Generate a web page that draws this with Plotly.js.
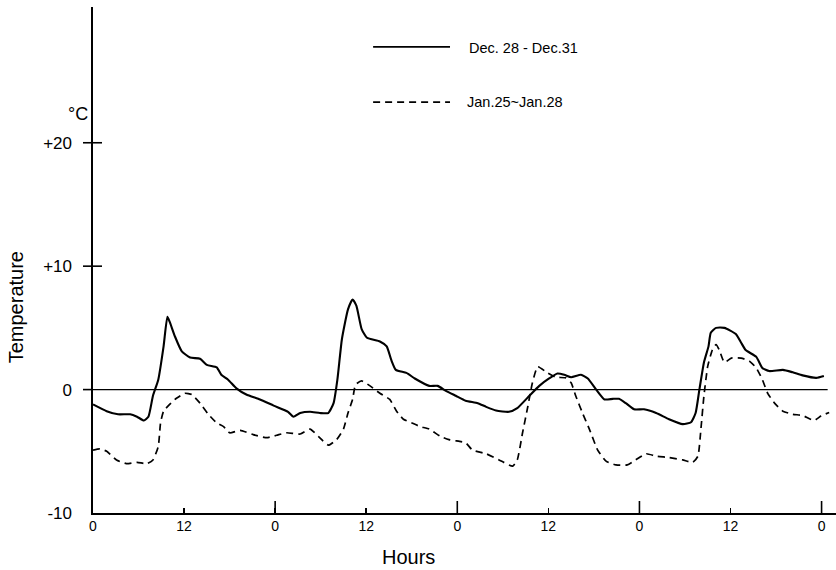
<!DOCTYPE html>
<html>
<head>
<meta charset="utf-8">
<script src="https://cdn.plot.ly/plotly-3.0.1.min.js"></script>
<style>html,body{margin:0;padding:0;background:#fff;}#chart{width:836px;height:570px;}</style>
</head>
<body>
<div id="chart"></div>
<script>
// Hours from start of the 4-day period
const decHours = [0,1.8,3.3,4.9,5.8,6.7,7.3,7.9,8.6,9.3,9.8,10.1,10.8,11.7,12.8,14.1,15.0,16.3,16.9,17.8,18.9,20.2,22.0,23.8,25.7,26.4,27.3,28.6,29.9,31.0,31.7,32.2,32.8,33.6,34.2,34.7,35.4,36.1,37.8,38.7,39.3,39.9,41.3,42.4,44.3,45.4,46.5,47.8,49.1,50.7,51.8,53.1,54.8,55.9,57.5,58.8,60.1,61.2,62.1,63.0,64.3,65.2,66.3,67.4,68.5,69.3,70.2,71.3,72.6,74.2,75.9,77.7,78.8,79.4,79.9,80.5,81.1,81.4,82.1,83.2,84.7,85.4,86.0,87.4,88.2,89.1,90.9,92.2,93.5,95.3,96.3];
const decTemp  = [-1.2,-1.75,-2.0,-2.0,-2.2,-2.5,-2.2,-0.5,0.8,3.5,5.9,5.5,4.3,3.1,2.6,2.5,2.0,1.8,1.2,0.8,0.1,-0.4,-0.8,-1.3,-1.8,-2.2,-1.9,-1.8,-1.9,-1.9,-1.1,0.8,4.1,6.5,7.3,6.8,4.9,4.2,3.9,3.5,2.4,1.6,1.35,0.9,0.3,0.3,-0.1,-0.5,-0.9,-1.1,-1.4,-1.7,-1.8,-1.5,-0.5,0.3,0.9,1.3,1.2,1.0,1.2,0.9,0.0,-0.8,-0.75,-0.75,-1.1,-1.6,-1.6,-1.9,-2.4,-2.8,-2.65,-1.9,0.0,2.2,3.5,4.6,5.0,5.0,4.5,3.8,3.2,2.65,1.75,1.5,1.6,1.4,1.15,0.95,1.1];

const janHours = [0,0.9,1.8,3.1,4.4,5.8,7.1,7.9,8.6,8.9,9.3,10.1,11.0,12.1,13.0,14.1,15.2,16.3,17.2,18.0,19.4,21.1,22.9,24.2,25.5,27.3,28.6,29.7,31.0,32.1,33.0,33.6,34.2,34.6,35.4,36.5,37.8,39.1,40.0,40.9,42.2,43.1,44.3,45.8,46.9,48.3,49.1,50.0,51.8,53.5,55.3,55.9,56.6,57.3,57.9,58.6,59.9,61.0,62.3,63.0,63.6,64.5,65.4,66.5,67.6,68.9,70.4,71.5,72.9,74.2,75.9,77.7,79.0,79.7,80.1,80.5,81.0,81.6,82.1,82.5,83.2,84.1,85.4,86.5,87.4,88.2,88.9,89.8,90.9,92.2,93.5,95.0,95.9,97.0];
const janTemp  = [-4.9,-4.8,-5.0,-5.7,-6.0,-5.9,-6.0,-5.7,-4.6,-2.7,-1.75,-1.2,-0.7,-0.3,-0.4,-1.1,-2.0,-2.7,-3.0,-3.5,-3.3,-3.65,-3.9,-3.7,-3.5,-3.6,-3.2,-3.8,-4.5,-4.05,-3.2,-1.9,-0.8,0.4,0.7,0.3,-0.3,-0.8,-1.75,-2.4,-2.75,-3.0,-3.2,-3.8,-4.05,-4.2,-4.3,-4.9,-5.2,-5.7,-6.2,-5.7,-3.5,-1.35,0.55,1.85,1.35,1.0,0.95,0.55,-0.5,-1.9,-3.2,-4.9,-5.8,-6.1,-6.1,-5.7,-5.2,-5.4,-5.5,-5.7,-5.9,-5.4,-3.2,-0.5,1.9,3.2,3.65,3.25,2.2,2.55,2.55,2.3,1.75,0.8,-0.3,-1.1,-1.75,-2.0,-2.1,-2.5,-2.15,-1.85];

const xTickVals = [0,12,24,36,48,60,72,84,96];
const xTickText = ["0","12","0","12","0","12","0","12","0"];
const dayTickVals = [24,48,72,96];
const yTickVals = [-10,0,10,20];
const yTickText = ["-10","0","+10","+20"];
const yOutTickVals = [0,10,20];
const yInTickVals = [10,20];
const seriesNames = ["Dec. 28 - Dec.31","Jan.25~Jan.28"];

const FONT = "Liberation Sans, Arial, sans-serif";
const XR = [0, 97.9];
const YR = [-10, 31];
const PLOT_W = 836 - 93, PLOT_H = 570 - 7 - 57;

const tickLine = {color:'#000', width:1.6};
const shapes = [];
// long "midnight" ticks on the x axis (inside)
dayTickVals.forEach(v => shapes.push({type:'line', xref:'x', yref:'paper', x0:v, x1:v, y0:0, y1:12/PLOT_H, line:tickLine}));
// y-axis tick stubs outside
yOutTickVals.forEach(v => shapes.push({type:'line', xref:'paper', yref:'y', x0:-10/PLOT_W, x1:0, y0:v, y1:v, line:tickLine}));
// y-axis tick stubs inside
yInTickVals.forEach(v => shapes.push({type:'line', xref:'paper', yref:'y', x0:0, x1:9/PLOT_W, y0:v, y1:v, line:tickLine}));
// zero reference line
shapes.push({type:'line', xref:'x', yref:'y', x0:0, x1:96.8, y0:0, y1:0, line:{color:'#000', width:1.2}, layer:'below'});
// legend samples
shapes.push({type:'line', xref:'paper', yref:'paper', x0:0.377, x1:0.4805, y0:0.921, y1:0.921, line:{color:'#000', width:1.7}});
shapes.push({type:'line', xref:'paper', yref:'paper', x0:0.377, x1:0.4805, y0:0.812, y1:0.812, line:{color:'#000', width:1.7, dash:'7px,5px'}});

const traces = [
  {x: decHours, y: decTemp, type:'scatter', mode:'lines', name: seriesNames[0],
   line:{color:'#000', width:2.1, shape:'spline', smoothing:0.5}, hoverinfo:'skip'},
  {x: janHours, y: janTemp, type:'scatter', mode:'lines', name: seriesNames[1],
   line:{color:'#000', width:1.7, dash:'7px,5px', shape:'spline', smoothing:0.5}, hoverinfo:'skip'}
];

const layout = {
  width:836, height:570,
  margin:{l:93, r:0, t:7, b:57},
  paper_bgcolor:'#fff', plot_bgcolor:'#fff',
  showlegend:false,
  font:{family:FONT, color:'#000'},
  xaxis:{range:XR, showgrid:false, zeroline:false, showline:true, linecolor:'#000', linewidth:1.6,
         tickmode:'array', tickvals:xTickVals, ticktext:xTickText, ticks:'inside', ticklen:5, tickwidth:1.5, tickcolor:'#000',
         tickfont:{size:14, family:FONT}, fixedrange:true},
  yaxis:{range:YR, showgrid:false, zeroline:false, showline:true, linecolor:'#000', linewidth:1.6,
         tickmode:'array', tickvals:yTickVals, ticktext:yTickText, ticks:'', ticklabelstandoff:16,
         tickfont:{size:17, family:FONT}, fixedrange:true},
  shapes: shapes,
  annotations:[
    {text:seriesNames[0], xref:'paper', yref:'paper', x:0.503, y:0.919, xanchor:'left', yanchor:'middle', showarrow:false, font:{size:14.5, family:FONT}},
    {text:seriesNames[1], xref:'paper', yref:'paper', x:0.501, y:0.812, xanchor:'left', yanchor:'middle', showarrow:false, font:{size:14.5, family:FONT}},
    {text:'°C', xref:'paper', yref:'paper', x:-0.0205, y:0.7885, xanchor:'center', yanchor:'middle', showarrow:false, font:{size:18, family:FONT}},
    {text:'Temperature', xref:'paper', yref:'paper', x:-0.104, y:0.406, xanchor:'center', yanchor:'middle', textangle:-90, showarrow:false, font:{size:20, family:FONT}},
    {text:'Hours', xref:'paper', yref:'paper', x:0.424, y:-0.087, xanchor:'center', yanchor:'middle', showarrow:false, font:{size:20, family:FONT}}
  ]
};

Plotly.newPlot('chart', traces, layout, {staticPlot:true, displayModeBar:false});
</script>
</body>
</html>
